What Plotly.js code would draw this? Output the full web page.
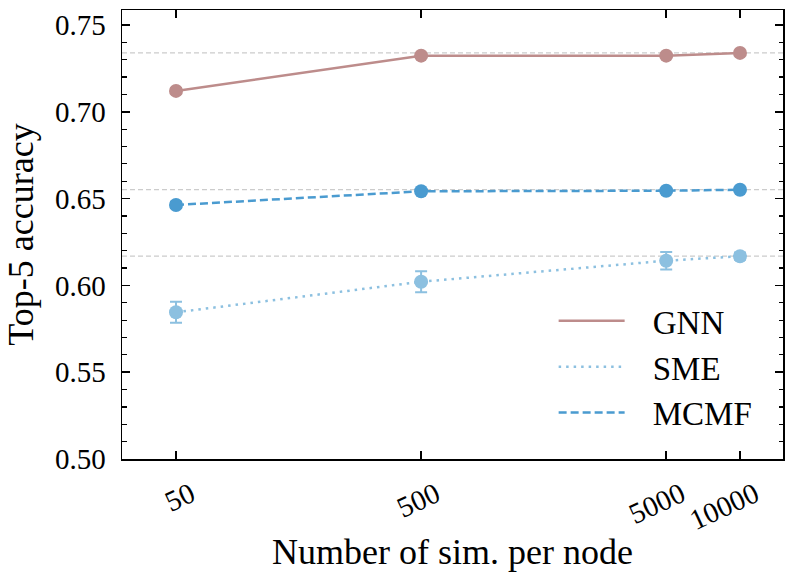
<!DOCTYPE html>
<html>
<head>
<meta charset="utf-8">
<script src="https://cdn.plot.ly/plotly-3.0.1.min.js"></script>
<style>html,body{margin:0;padding:0;background:#fff;}#chart{width:793px;height:583px;}</style>
</head>
<body>
<div id="chart"></div>
<script>
// Data
const sims = [50, 500, 5000, 10000];
const tickLabels = ["50", "500", "5000", "10000"];
const gnn = [0.712, 0.7323, 0.7323, 0.7339];
const gnnErr = [0.0015, 0.001, 0.0008, 0.001];
const sme = [0.5845, 0.6021, 0.6142, 0.6168];
const smeErr = [0.006, 0.006, 0.005, 0.002];
const mcmf = [0.6463, 0.6542, 0.6545, 0.6551];
const mcmfErr = [0.0018, 0.001, 0.001, 0.001];
const yTicks = [0.50, 0.55, 0.60, 0.65, 0.70, 0.75];
const yTickLabels = ['0.50', '0.55', '0.60', '0.65', '0.70', '0.75'];

const cGNN = '#bd8c8b', cSME = '#8cc0e0', cMCMF = '#4a9bd0';
const FONT = 'Liberation Serif, DejaVu Serif, serif';
const NB = '\u00a0\u00a0\u2009';

function series(name, y, err, color, dash, order) {
  return [{
    x: sims, y: y, type: 'scatter', mode: 'lines+markers', name: name,
    showlegend: false,
    line: {color: color, width: 2.5, dash: dash},
    marker: {color: color, size: 14},
    error_y: {type: 'data', array: err, visible: true, color: color, thickness: 2, width: 6}
  }, {
    x: [null], y: [null], type: 'scatter', mode: 'lines', name: NB + name,
    legendgroup: 'g' + order, legendrank: order,
    line: {color: color, width: 2.5, dash: dash}
  }];
}

const traces = [].concat(
  series('GNN', gnn, gnnErr, cGNN, 'solid', 1),
  series('SME', sme, smeErr, cSME, '2.5px,5px', 2),
  series('MCMF', mcmf, mcmfErr, cMCMF, '8px,4px', 3)
);

const refLines = [gnn, mcmf, sme].map(arr => ({
  type: 'line', xref: 'paper', x0: 0, x1: 1, yref: 'y',
  y0: Math.max(...arr), y1: Math.max(...arr),
  line: {color: '#cccccc', width: 1.2, dash: '5px,3px'}, layer: 'below'
}));

const layout = {
  width: 793, height: 583,
  margin: {l: 122, r: 10, t: 10, b: 124},
  paper_bgcolor: '#fff', plot_bgcolor: '#fff',
  font: {family: FONT, color: '#000', size: 20},
  showlegend: true,
  legend: {x: 0.653, y: 0.37, xanchor: 'left', yanchor: 'top',
    font: {size: 33, family: FONT}, itemwidth: 66, bgcolor: 'rgba(0,0,0,0)',
    traceorder: 'grouped', tracegroupgap: 0},
  xaxis: {
    type: 'log', range: [1.4786, 4.1755],
    tickvals: sims, ticktext: tickLabels, tickangle: -25,
    ticks: 'inside', ticklen: 8, tickwidth: 1.5, tickcolor: '#000',
    showline: true, linecolor: '#000', linewidth: 1.5, mirror: 'allticks',
    showgrid: false, zeroline: false, ticklabelstandoff: 6, ticklabelshift: 15,
    tickfont: {size: 29},
    title: {text: 'Number of sim. per node', font: {size: 36}, standoff: 4}
  },
  yaxis: {
    range: [0.5, 0.7586], tickvals: yTicks, ticktext: yTickLabels,
    ticks: 'inside', ticklen: 8, tickwidth: 1.5, tickcolor: '#000',
    minor: {ticks: 'inside', dtick: 0.01, ticklen: 4.5, tickwidth: 1.2, tickcolor: '#000', showgrid: false},
    showline: true, linecolor: '#000', linewidth: 1.5, mirror: 'allticks',
    showgrid: false, zeroline: false, ticklabelstandoff: 9,
    tickfont: {size: 29},
    title: {text: 'Top-5 accuracy', font: {size: 36}, standoff: 10}
  },
  shapes: refLines
};

Plotly.newPlot('chart', traces, layout, {staticPlot: true, displayModeBar: false});
</script>
</body>
</html>
